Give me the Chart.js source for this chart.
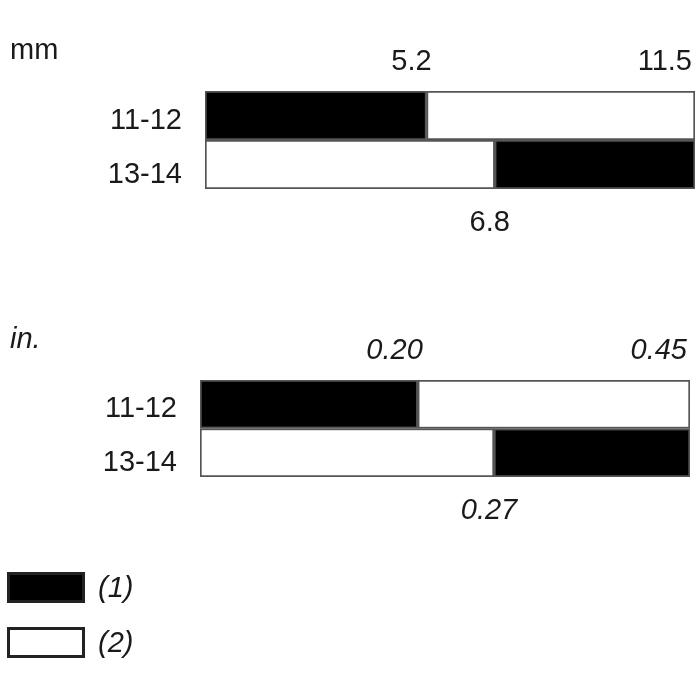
<!DOCTYPE html>
<html>
<head>
<meta charset="utf-8">
<script src="https://cdn.jsdelivr.net/npm/chart.js@4.4.0/dist/chart.umd.min.js"></script>
<style>
  body { margin: 0; background: #fff; width: 700px; height: 700px; position: relative; overflow: hidden; }
  canvas { position: absolute; left: 0; }
</style>
</head>
<body>
<canvas id="mmChart" width="700" height="260" style="top:0"></canvas>
<canvas id="inChart" width="700" height="440" style="top:260px"></canvas>
<script>
const rowLabels = ["11-12", "13-14"];
const seriesNames = ["(1)", "(2)"];
const seriesColors = ["#000000", "#ffffff"];

const mmSplits = [5.2, 6.8];
const mmTotal = 11.5;
const mmValueLabels = ["5.2", "6.8", "11.5"];

const inSplits = [0.20, 0.27];
const inTotal = 0.45;
const inValueLabels = ["0.20", "0.27", "0.45"];

const FONT = '"Liberation Sans", Arial, sans-serif';
const SIZE = "29px ";

// row 1: (1) first then (2); row 2: (2) first then (1)
function buildDatasets(splits, total) {
  return [
    {
      label: seriesNames[0],
      data: [[0, splits[0]], [splits[1], total]],
      backgroundColor: seriesColors[0],
    },
    {
      label: seriesNames[1],
      data: [[splits[0], total], [0, splits[1]]],
      backgroundColor: seriesColors[1],
    },
  ].map((ds) => ({
    ...ds,
    borderColor: "#555555",
    borderWidth: 2,
    borderSkipped: false,
    grouped: false,
    categoryPercentage: 1,
    barPercentage: 1,
  }));
}

const textPlugin = {
  id: "textPlugin",
  afterDatasetsDraw(chart, args, opts) {
    const { ctx, chartArea } = chart;
    const x = chart.scales.x;
    const y = chart.scales.y;
    const style = opts.italic ? "italic " : "";
    ctx.save();
    ctx.fillStyle = "#1a1a1a";
    ctx.textBaseline = "middle";

    // unit label
    ctx.font = style + SIZE + FONT;
    ctx.textAlign = "left";
    ctx.fillText(opts.unit, 10, chartArea.top - 40);

    // category labels
    ctx.font = SIZE + FONT;
    ctx.textAlign = "right";
    rowLabels.forEach((lab, i) => {
      ctx.fillText(lab, chartArea.left - 23, y.getPixelForValue(i) + (i === 0 ? 5 : 10));
    });

    // value labels
    ctx.font = style + SIZE + FONT;
    ctx.textAlign = "right";
    ctx.fillText(opts.valueLabels[0], x.getPixelForValue(opts.splits[0]) + 5, chartArea.top - 29);
    ctx.fillText(opts.valueLabels[2], x.getPixelForValue(opts.total) - 3, chartArea.top - 29);
    ctx.textAlign = "center";
    ctx.fillText(opts.valueLabels[1], x.getPixelForValue(opts.splits[1]) - 5, chartArea.bottom + 34);

    // legend
    if (opts.legend) {
      chart.data.datasets.forEach((ds, i) => {
        const top = chartArea.bottom + 95 + i * 55;
        ctx.fillStyle = ds.backgroundColor;
        ctx.fillRect(7, top, 78, 31);
        ctx.strokeStyle = "#222";
        ctx.lineWidth = 3;
        ctx.strokeRect(8.5, top + 1.5, 75, 28);
        ctx.fillStyle = "#1a1a1a";
        ctx.font = "italic " + SIZE + FONT;
        ctx.textAlign = "left";
        ctx.fillText(ds.label, 98, top + 17);
      });
    }
    ctx.restore();
  },
};

function makeChart(id, splits, total, valueLabels, unit, italic, legend, padding) {
  return new Chart(document.getElementById(id), {
    type: "bar",
    data: {
      labels: rowLabels,
      datasets: buildDatasets(splits, total),
    },
    options: {
      indexAxis: "y",
      responsive: false,
      animation: false,
      layout: { padding: padding },
      scales: {
        x: { display: false, min: 0, max: total },
        y: { display: false },
      },
      plugins: {
        legend: { display: false },
        tooltip: { enabled: false },
        textPlugin: { splits, total, valueLabels, unit, italic, legend },
      },
    },
    plugins: [textPlugin],
  });
}

makeChart("mmChart", mmSplits, mmTotal, mmValueLabels, "mm", false, false,
  { left: 205, right: 5, top: 91, bottom: 71 });
makeChart("inChart", inSplits, inTotal, inValueLabels, "in.", true, true,
  { left: 200, right: 10, top: 120, bottom: 223 });
</script>
</body>
</html>
